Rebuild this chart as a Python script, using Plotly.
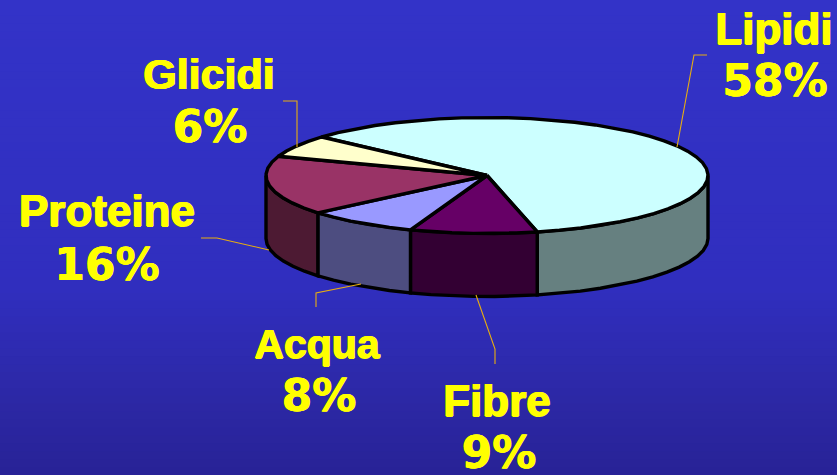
import numpy as np
import plotly.graph_objects as go

categories = ["Lipidi", "Fibre", "Acqua", "Proteine", "Glicidi"]
values = [58, 9, 8, 16, 6]
top_colors = ["#CCFFFF", "#660066", "#9999FF", "#993366", "#FFFFCC"]
side_colors = ["#668080", "#330033", "#4D4D80", "#4D1A33", "#808066"]

# Layout of the tilted pie, in page pixels
W, H = 837, 475
CX, CY, RX, RY, DEPTH = 487, 175.5, 221, 58, 63
START = -48.4
STEP = 6.0
OUTLINE = "#000000"
LINE_W = 3.4
LEADER = "#E8AE10"
FONT_NAME = "Liberation Sans"
FONT_PCT = "DejaVu Sans"
PCT_SIZE = 44
name_size = {"Lipidi": 44, "Fibre": 44, "Acqua": 41, "Proteine": 44, "Glicidi": 43}
HEAVY = "0.7px 0 0 #FFFF00, -0.7px 0 0 #FFFF00, 0 0.5px 0 #FFFF00"
HEAVY_PCT = "0.4px 0 0 #FFFF00, -0.4px 0 0 #FFFF00"

label_pos = {
    "Lipidi": ((774, 33), (775, 85)),
    "Fibre": ((497, 405), (499, 457)),
    "Acqua": ((317, 348), (319, 400)),
    "Proteine": ((107, 215), (107, 269)),
    "Glicidi": ((209, 78), (210, 131)),
}
leaders = [
    [(707, 55), (694, 55), (677, 147)],
    [(495, 364), (495, 349), (476, 295)],
    [(316, 307), (316, 293), (361, 284)],
    [(201, 238), (217, 238), (269, 250)],
    [(283, 101), (297, 101), (297, 147)],
]

def ell(theta_deg, dy=0.0):
    t = np.radians(theta_deg)
    return CX + RX * np.sin(t), CY - RY * np.cos(t) + dy

def arc(lo, hi):
    return np.linspace(lo, hi, int((hi - lo) / STEP) + 2)

total = sum(values)
edges = START + np.cumsum([0] + values) * 360.0 / total

fig = go.Figure()

# side walls, only the part of each slice facing the viewer (90..270 deg)
for i, name in enumerate(categories):
    a, b = edges[i], edges[i + 1]
    for shift in (0, 360, -360):
        lo, hi = max(a + shift, 90), min(b + shift, 270)
        if hi > lo:
            th = arc(lo, hi)
            x1, y1 = ell(th)
            x2, y2 = ell(th[::-1], DEPTH)
            fig.add_trace(go.Scatter(
                x=np.r_[x1, x2, x1[0]], y=np.r_[y1, y2, y1[0]], mode="lines",
                fill="toself", fillcolor=side_colors[i],
                line=dict(color=OUTLINE, width=LINE_W), hoverinfo="skip", showlegend=False))

# top faces
for i, name in enumerate(categories):
    th = arc(edges[i], edges[i + 1])
    x, y = ell(th)
    fig.add_trace(go.Scatter(
        x=np.r_[CX, x, CX], y=np.r_[CY, y, CY], mode="lines",
        fill="toself", fillcolor=top_colors[i],
        line=dict(color=OUTLINE, width=LINE_W), hoverinfo="skip", showlegend=False))

# leader lines
for pts in leaders:
    fig.add_trace(go.Scatter(
        x=[p[0] for p in pts], y=[p[1] for p in pts], mode="lines",
        line=dict(color=LEADER, width=1.1), hoverinfo="skip", showlegend=False))

# labels
for name, val in zip(categories, values):
    (nx, ny), (px, py) = label_pos[name]
    fig.add_trace(go.Scatter(x=[nx], y=[ny], mode="text", text=[f"<b>{name}</b>"],
                             textposition="middle center",
                             textfont=dict(family=FONT_NAME, size=name_size[name], color="#FFFF00",
                                           shadow=HEAVY),
                             hoverinfo="skip", showlegend=False))
    fig.add_trace(go.Scatter(x=[px], y=[py], mode="text", text=[f"<b>{val}%</b>"],
                             textposition="middle center",
                             textfont=dict(family=FONT_PCT, size=PCT_SIZE, color="#FFFF00",
                                           shadow=HEAVY_PCT),
                             hoverinfo="skip", showlegend=False))

# background gradient
grad_y = [0, 290, 400, 475]
grad_r = [51, 48, 44, 40]
grad_g = [51, 46, 40, 34]
grad_b = [200, 190, 165, 150]
bands = 60
shapes = []
for k in range(bands):
    y0, y1 = H * k / bands, H * (k + 1) / bands
    ym = (y0 + y1) / 2
    c = [int(round(np.interp(ym, grad_y, g))) for g in (grad_r, grad_g, grad_b)]
    shapes.append(dict(type="rect", xref="x", yref="y", x0=0, x1=W, y0=y0, y1=y1 + 1,
                       fillcolor=f"rgb({c[0]},{c[1]},{c[2]})", line=dict(width=0), layer="below"))

fig.update_layout(
    width=W, height=H, margin=dict(l=0, r=0, t=0, b=0),
    paper_bgcolor="#3030C0", plot_bgcolor="#3030C0", shapes=shapes, showlegend=False,
    xaxis=dict(range=[0, W], visible=False, fixedrange=True),
    yaxis=dict(range=[H, 0], visible=False, fixedrange=True),
)
fig.write_html("out.html", config={"displayModeBar": False},
               post_script="document.body.style.margin='0';document.body.style.overflow='hidden';")
